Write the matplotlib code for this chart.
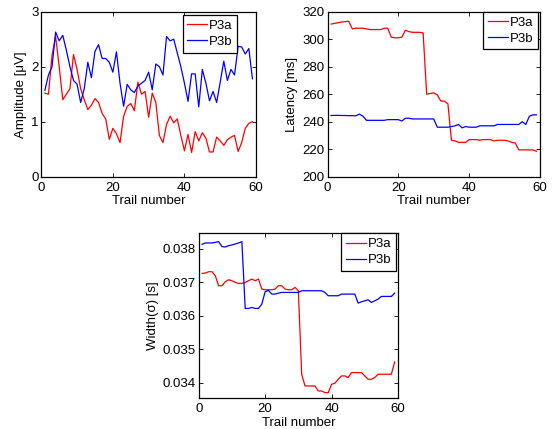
import numpy as np
import matplotlib
matplotlib.use("Agg")
import matplotlib.pyplot as plt

plt.rcParams['font.family'] = ['Liberation Sans', 'DejaVu Sans']
plt.rcParams['font.size'] = 9.5

trials = np.arange(1, 60)

amp_p3a = [1.52, 1.50, 2.21, 2.55, 2.00, 1.40, 1.50, 1.60, 2.22, 1.95,
           1.60, 1.40, 1.22, 1.30, 1.42, 1.35, 1.15, 1.05, 0.68, 0.88,
           0.78, 0.62, 1.10, 1.28, 1.33, 1.20, 1.72, 1.50, 1.55, 1.08,
           1.52, 1.35, 0.75, 0.62, 0.95, 1.10, 0.98, 1.05, 0.75, 0.47,
           0.77, 0.44, 0.82, 0.65, 0.80, 0.70, 0.45, 0.45, 0.72, 0.65,
           0.57, 0.67, 0.72, 0.75, 0.46, 0.62, 0.88, 0.97, 1.00]
amp_p3b = [1.57, 1.85, 2.00, 2.63, 2.47, 2.57, 2.30, 2.00, 1.75, 1.68,
           1.35, 1.60, 2.08, 1.80, 2.28, 2.40, 2.15, 2.15, 2.08, 1.90,
           2.27, 1.70, 1.28, 1.68, 1.58, 1.53, 1.65, 1.70, 1.75, 1.90,
           1.58, 2.05, 2.00, 1.85, 2.55, 2.47, 2.50, 2.25, 2.00, 1.70,
           1.37, 1.87, 1.87, 1.27, 1.95, 1.70, 1.38, 1.55, 1.35, 1.72,
           2.10, 1.75, 1.95, 1.85, 2.37, 2.36, 2.23, 2.33, 1.78]

lat_p3a = [311, 311.5, 312, 312.5, 312.8, 313, 307.5, 308, 308, 308,
           307.5, 307, 307, 307, 307, 308, 308, 301.5, 301, 301,
           301.5, 306.5, 305.5, 305, 305, 305, 304.5, 260, 260.5, 261,
           259.5, 255, 255, 253, 226.5, 226, 225, 225, 225, 227,
           227, 227, 226.5, 227, 227, 227, 226, 226.5, 226.5, 226.5,
           226, 225, 224.5, 219.5, 219.5, 219.5, 219.5, 219.5, 218.5]
lat_p3b = [244.5, 244.6, 244.6, 244.5, 244.5, 244.4, 244.4, 244.3, 245.5, 244,
           241, 241, 241, 241, 241, 241, 241.5, 241.5, 241.5, 241.5,
           240.5, 242.5, 242.5, 242, 242, 242, 242, 242, 242, 242,
           236, 236, 236, 236, 236.5, 237, 238, 235.5, 236.5, 236,
           236, 236, 237, 237, 237, 237, 237, 238, 238, 238,
           238, 238, 238, 238, 240, 238, 244, 245, 245]

wid_p3a = [0.03727, 0.03728, 0.03732, 0.03732, 0.03720, 0.03690, 0.03690, 0.03702, 0.03708, 0.03705,
           0.03700, 0.03697, 0.03697, 0.03700, 0.03705, 0.03710, 0.03705, 0.03710, 0.03680, 0.03678,
           0.03678, 0.03678, 0.03680, 0.03690, 0.03690, 0.03680, 0.03678, 0.03678, 0.03685, 0.03675,
           0.03425, 0.03390, 0.03390, 0.03390, 0.03390, 0.03375, 0.03375, 0.03370, 0.03370, 0.03395,
           0.03398, 0.03410, 0.03420, 0.03420, 0.03415, 0.03430, 0.03430, 0.03430, 0.03430, 0.03420,
           0.03410, 0.03410, 0.03415, 0.03425, 0.03425, 0.03425, 0.03425, 0.03425, 0.03462]
wid_p3b = [0.03814, 0.03818, 0.03818, 0.03818, 0.03820, 0.03822, 0.03807, 0.03806, 0.03810, 0.03812,
           0.03815, 0.03818, 0.03822, 0.03622, 0.03622, 0.03625, 0.03622, 0.03622, 0.03635, 0.03672,
           0.03676, 0.03665, 0.03665, 0.03668, 0.03670, 0.03670, 0.03670, 0.03670, 0.03670, 0.03670,
           0.03675, 0.03675, 0.03675, 0.03675, 0.03675, 0.03675, 0.03675, 0.03670, 0.03660, 0.03660,
           0.03660, 0.03660, 0.03665, 0.03665, 0.03665, 0.03665, 0.03665, 0.03638, 0.03642, 0.03645,
           0.03648, 0.03640, 0.03645, 0.03650, 0.03658, 0.03658, 0.03658, 0.03658, 0.03668]

fig = plt.figure(figsize=(5.53, 4.29), dpi=100)
W, H = 553.0, 429.0

def make_ax(l, r, t, b):
    return fig.add_axes([l / W, 1 - b / H, (r - l) / W, (b - t) / H])

def style(ax, anchor):
    ax.tick_params(direction='in', top=True, right=True, length=3, width=0.6,
                   labelsize=9.5, pad=2)
    ax.tick_params(axis='x', pad=3.5)
    for s in ax.spines.values():
        s.set_linewidth(0.9)
    ax.set_xlim(0, 60)
    ax.set_xticks([0, 20, 40, 60])
    ax.set_xlabel('Trail number', labelpad=1)
    leg = ax.legend(loc='upper right', bbox_to_anchor=anchor, fancybox=False,
                    framealpha=1, edgecolor='black', borderaxespad=0,
                    handlelength=1.5, handletextpad=0.15, borderpad=0.35,
                    labelspacing=0.3, fontsize=9.5)
    leg.get_frame().set_linewidth(0.9)

ax1 = make_ax(41.3, 256, 11.7, 176.7)
ax1.plot(trials, amp_p3a, color='red', lw=0.9, label='P3a')
ax1.plot(trials, amp_p3b, color='blue', lw=0.9, label='P3b')
ax1.set_ylim(0, 3)
ax1.set_yticks([0, 1, 2, 3])
ax1.set_ylabel('Amplitude [μV]', labelpad=3)
style(ax1, (0.912, 0.98))

ax2 = make_ax(327.5, 540, 11.7, 176.7)
ax2.plot(trials, lat_p3a, color='red', lw=0.9, label='P3a')
ax2.plot(trials, lat_p3b, color='blue', lw=0.9, label='P3b')
ax2.set_ylim(200, 320)
ax2.set_yticks([200, 220, 240, 260, 280, 300, 320])
ax2.set_ylabel('Latency [ms]', labelpad=3)
style(ax2, (0.99, 1.0))

ax3 = make_ax(198.7, 398, 233.3, 398.3)
ax3.plot(trials, wid_p3a, color='red', lw=0.9, label='P3a')
ax3.plot(trials, wid_p3b, color='blue', lw=0.9, label='P3b')
ax3.set_ylim(0.03353, 0.03847)
ax3.set_yticks([0.034, 0.035, 0.036, 0.037, 0.038])
ax3.set_yticklabels(['0.034', '0.035', '0.036', '0.037', '0.038'])
ax3.set_ylabel('Width(σ) [s]', labelpad=3)
style(ax3, (0.988, 1.0))

fig.savefig('out.png', dpi=100)
